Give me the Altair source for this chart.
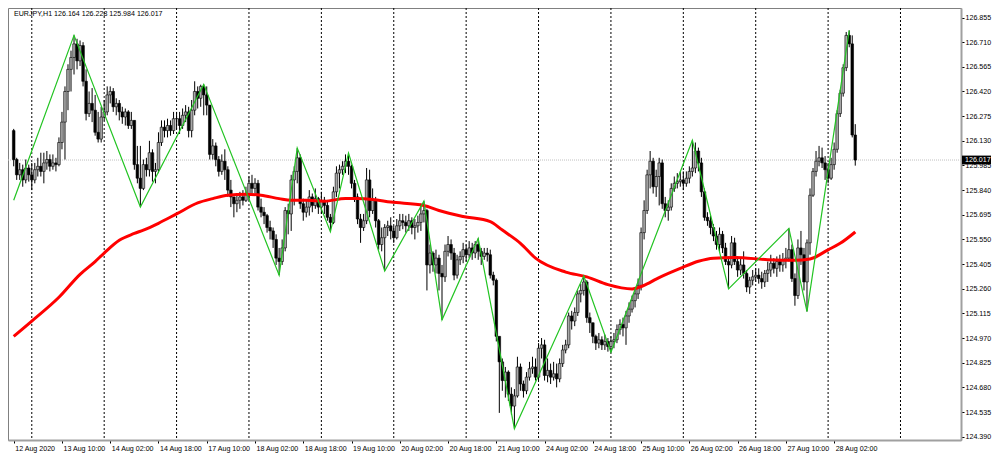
import json
import altair as alt
import pandas as pd

# ---------------- data ----------------
title_text = "EURJPY,H1  126.164 126.228 125.984 126.017"
first_open = 126.19

close = [
    126.02, 125.93, 125.96, 125.90, 125.97, 125.93, 125.90, 125.96, 125.98, 125.95,
    126.00, 126.02, 125.98, 126.00, 125.99, 126.12, 126.24, 126.42, 126.55, 126.62,
    126.70, 126.60, 126.69, 126.48, 126.29, 126.35, 126.31, 126.18, 126.14, 126.27,
    126.30, 126.40, 126.42, 126.33, 126.35, 126.30, 126.27, 126.30, 126.22, 126.25,
    125.99, 125.91, 125.85, 125.99, 125.96, 126.06, 125.95, 125.96, 126.12, 126.21,
    126.19, 126.22, 126.19, 126.26, 126.26, 126.22, 126.28, 126.30, 126.19, 126.31,
    126.42, 126.38, 126.45, 126.40, 126.34, 126.05, 126.10, 126.02, 125.95, 126.01,
    125.96, 125.84, 125.80, 125.76, 125.78, 125.80, 125.78, 125.82, 125.88, 125.85,
    125.88, 125.74, 125.71, 125.69, 125.62, 125.60, 125.55, 125.44, 125.42, 125.50,
    125.72, 125.70, 125.90, 125.95, 126.03, 125.76, 125.71, 125.74, 125.80, 125.75,
    125.79, 125.74, 125.78, 125.75, 125.68, 125.65, 125.83, 125.94, 125.96, 125.98,
    126.01, 125.98, 125.88, 125.80, 125.67, 125.62, 125.66, 125.90, 125.72, 125.78,
    125.66, 125.52, 125.56, 125.62, 125.63, 125.60, 125.56, 125.63, 125.66, 125.65,
    125.63, 125.66, 125.62, 125.63, 125.65, 125.70, 125.72, 125.40, 125.47, 125.40,
    125.44, 125.35, 125.33, 125.48, 125.52, 125.47, 125.34, 125.43, 125.45, 125.49,
    125.46, 125.50, 125.47, 125.52, 125.48, 125.45, 125.47, 125.46, 125.34, 125.31,
    124.98, 124.83, 124.72, 124.77, 124.64, 124.57, 124.63, 124.80, 124.70, 124.66,
    124.74, 124.79, 124.80, 124.74, 124.91, 124.93, 124.75, 124.78, 124.74, 124.76,
    124.73, 124.82, 124.90, 124.93, 125.10, 125.07, 125.12, 125.23, 125.25, 125.30,
    125.09, 125.06, 124.98, 124.94, 124.96, 124.93, 124.95, 124.92, 124.95, 124.96,
    125.02, 125.05, 125.03, 125.10, 125.14, 125.19, 125.23, 125.28, 125.59, 125.72,
    125.93, 126.01, 125.86, 125.92, 126.00, 125.76, 125.72, 125.74, 125.85, 125.88,
    125.89, 125.90, 125.88, 125.91, 125.95, 125.97, 126.07, 126.00, 125.83, 125.68,
    125.66, 125.62, 125.57, 125.52, 125.58, 125.50, 125.42, 125.40, 125.53, 125.42,
    125.37, 125.40, 125.35, 125.27, 125.31, 125.33, 125.34, 125.32, 125.30, 125.35,
    125.37, 125.41, 125.38, 125.42, 125.40, 125.43, 125.44, 125.49, 125.32, 125.22,
    125.50, 125.46, 125.30, 125.53, 125.81, 125.95, 126.01, 126.03, 126.00, 125.96,
    125.91, 125.99, 126.08, 126.29, 126.41, 126.56, 126.75, 126.70, 126.164, 126.017,
]

high = [
    126.20, 126.03, 126.00, 125.99, 126.02, 125.99, 126.00, 126.00, 126.03, 126.06,
    126.06, 126.07, 126.05, 126.05, 126.03, 126.15, 126.30, 126.45, 126.58, 126.66,
    126.75, 126.73, 126.72, 126.71, 126.55, 126.42, 126.44, 126.40, 126.30, 126.33,
    126.37, 126.45, 126.45, 126.44, 126.38, 126.37, 126.33, 126.32, 126.31, 126.30,
    126.24, 126.10, 126.10, 126.02, 126.03, 126.13, 126.08, 126.00, 126.18, 126.25,
    126.25, 126.26, 126.25, 126.30, 126.30, 126.30, 126.32, 126.34, 126.33, 126.37,
    126.48, 126.45, 126.46, 126.462, 126.45, 126.34, 126.14, 126.12, 126.04, 126.05,
    126.08, 125.98, 125.90, 125.80, 125.81, 125.83, 125.84, 125.86, 125.92, 125.93,
    125.91, 125.90, 125.79, 125.74, 125.70, 125.66, 125.62, 125.58, 125.50, 125.55,
    125.74, 125.76, 125.93, 125.98, 126.087, 126.05, 125.79, 125.78, 125.84, 125.82,
    125.85, 125.80, 125.83, 125.80, 125.78, 125.70, 125.86, 125.98, 125.99, 126.01,
    126.05, 126.058, 125.99, 125.90, 125.82, 125.70, 125.70, 125.97, 125.96, 125.85,
    125.80, 125.67, 125.62, 125.64, 125.66, 125.68, 125.63, 125.67, 125.70, 125.70,
    125.69, 125.70, 125.68, 125.67, 125.69, 125.76, 125.775, 125.73, 125.52, 125.48,
    125.49, 125.46, 125.40, 125.52, 125.57, 125.55, 125.50, 125.46, 125.48, 125.53,
    125.52, 125.54, 125.53, 125.54, 125.556, 125.50, 125.50, 125.50, 125.49, 125.36,
    125.32, 124.98, 124.85, 124.80, 124.78, 124.68, 124.67, 124.86, 124.82, 124.72,
    124.77, 124.83, 124.86, 124.85, 124.94, 124.97, 124.96, 124.85, 124.82, 124.83,
    124.82, 124.85, 124.93, 124.96, 125.12, 125.13, 125.15, 125.25, 125.29, 125.336,
    125.31, 125.12, 125.06, 124.99, 125.00, 124.98, 124.99, 124.97, 124.98, 125.00,
    125.05, 125.08, 125.09, 125.13, 125.18, 125.22, 125.26, 125.32, 125.62, 125.78,
    125.96, 126.07, 126.03, 125.96, 126.03, 126.02, 125.80, 125.78, 125.88, 125.92,
    125.94, 125.95, 125.95, 125.95, 125.98, 126.133, 126.12, 126.09, 126.03, 125.85,
    125.71, 125.69, 125.64, 125.60, 125.62, 125.60, 125.53, 125.45, 125.57, 125.56,
    125.45, 125.44, 125.48, 125.37, 125.33, 125.37, 125.38, 125.38, 125.36, 125.37,
    125.42, 125.46, 125.44, 125.45, 125.46, 125.47, 125.50, 125.615, 125.52, 125.35,
    125.55, 125.60, 125.50, 125.55, 125.85, 125.97, 126.07, 126.10, 126.09, 126.04,
    126.00, 126.03, 126.12, 126.31, 126.43, 126.58, 126.77, 126.779, 126.75, 126.228,
]

low = [
    125.98, 125.90, 125.90, 125.86, 125.88, 125.89, 125.84, 125.88, 125.92, 125.92,
    125.88, 125.96, 125.95, 125.96, 125.95, 125.98, 126.08, 126.02, 126.31, 126.42,
    126.52, 126.55, 126.57, 126.45, 126.25, 126.27, 126.24, 126.16, 126.12, 126.12,
    126.25, 126.28, 126.35, 126.30, 126.28, 126.25, 126.23, 126.22, 126.20, 126.20,
    125.96, 125.88, 125.741, 125.84, 125.92, 125.92, 125.89, 125.88, 125.94, 126.10,
    126.15, 126.15, 126.16, 126.17, 126.20, 126.17, 126.20, 126.24, 126.15, 126.15,
    126.28, 126.32, 126.33, 126.28, 126.28, 126.02, 126.02, 125.98, 125.92, 125.93,
    125.90, 125.80, 125.74, 125.68, 125.71, 125.73, 125.75, 125.77, 125.78, 125.82,
    125.82, 125.72, 125.68, 125.64, 125.59, 125.55, 125.50, 125.40, 125.34, 125.40,
    125.48, 125.58, 125.60, 125.75, 125.88, 125.73, 125.66, 125.68, 125.69, 125.71,
    125.73, 125.70, 125.70, 125.70, 125.66, 125.595, 125.64, 125.80, 125.85, 125.93,
    125.94, 125.93, 125.85, 125.77, 125.64, 125.53, 125.60, 125.64, 125.68, 125.70,
    125.62, 125.49, 125.48, 125.364, 125.57, 125.55, 125.53, 125.55, 125.60, 125.61,
    125.59, 125.60, 125.58, 125.55, 125.59, 125.60, 125.65, 125.25, 125.35, 125.36,
    125.35, 125.25, 125.077, 125.30, 125.45, 125.43, 125.31, 125.32, 125.40, 125.41,
    125.42, 125.44, 125.43, 125.44, 125.43, 125.40, 125.43, 125.42, 125.32, 125.28,
    124.95, 124.53, 124.66, 124.62, 124.60, 124.52, 124.437, 124.62, 124.66, 124.62,
    124.64, 124.72, 124.76, 124.72, 124.72, 124.85, 124.72, 124.71, 124.70, 124.72,
    124.68, 124.71, 124.80, 124.88, 124.91, 125.02, 125.04, 125.10, 125.18, 125.22,
    125.06, 125.00, 124.94, 124.90, 124.91, 124.90, 124.90, 124.89, 124.887, 124.91,
    124.94, 124.99, 124.98, 124.93, 125.06, 125.12, 125.15, 125.20, 125.25, 125.55,
    125.70, 125.85, 125.82, 125.80, 125.75, 125.73, 125.68, 125.66, 125.72, 125.83,
    125.85, 125.86, 125.84, 125.86, 125.88, 125.92, 125.94, 125.95, 125.80, 125.66,
    125.63, 125.58, 125.54, 125.49, 125.48, 125.47, 125.40, 125.259, 125.38, 125.40,
    125.33, 125.34, 125.32, 125.24, 125.23, 125.28, 125.30, 125.29, 125.26, 125.27,
    125.30, 125.33, 125.35, 125.33, 125.36, 125.36, 125.38, 125.42, 125.30, 125.16,
    125.20, 125.40, 125.25, 125.126, 125.46, 125.80, 125.92, 125.98, 125.97, 125.90,
    125.88, 125.90, 125.96, 126.06, 126.27, 126.39, 126.54, 126.68, 126.15, 125.984,
]

# moving average (red), read at sample bars
ma_bar = [0, 6, 15, 22, 27, 30, 35, 40, 43, 48, 54, 61, 66, 71, 77, 82, 88, 92, 97,
          103, 110, 114, 119, 125, 136, 141, 149, 158, 162, 168, 173, 183, 190, 197,
          205, 210, 213, 221, 227, 232, 239, 250, 259, 264, 270, 274, 279]
ma_val = [124.98, 125.07, 125.21, 125.345, 125.42, 125.47, 125.545, 125.585, 125.605,
          125.645, 125.70, 125.765, 125.79, 125.81, 125.815, 125.81, 125.79, 125.78,
          125.78, 125.775, 125.79, 125.79, 125.785, 125.77, 125.75, 125.72, 125.685,
          125.655, 125.605, 125.527, 125.44, 125.358, 125.33, 125.284, 125.259, 125.288,
          125.317, 125.38, 125.422, 125.44, 125.444, 125.431, 125.427, 125.435, 125.489,
          125.527, 125.594]

# zigzag pivots (green)
zz_bar = [0, 20, 42, 63, 88, 94, 105, 111, 123, 136, 142, 154, 166, 189, 198, 225,
          237, 257, 263, 277]
zz_val = [125.78, 126.75, 125.741, 126.462, 125.34, 126.087, 125.595, 126.058, 125.364,
          125.775, 125.077, 125.556, 124.437, 125.336, 124.887, 126.133, 125.259, 125.615,
          125.126, 126.779]

# day separators (bar index of 00:00) and time labels
grid_bar = [6, 30, 54, 78, 102, 126, 150, 174, 198, 222, 246, 270, 294]
time_label_bar = [0, 16, 32, 48, 64, 80, 96, 112, 128, 144, 160, 176, 192, 208, 224,
                  240, 256, 272]
time_labels = ["12 Aug 2020", "13 Aug 10:00", "14 Aug 02:00", "14 Aug 18:00",
               "17 Aug 10:00", "18 Aug 02:00", "18 Aug 18:00", "19 Aug 10:00",
               "20 Aug 02:00", "20 Aug 18:00", "21 Aug 10:00", "24 Aug 02:00",
               "24 Aug 18:00", "25 Aug 10:00", "26 Aug 02:00", "26 Aug 18:00",
               "27 Aug 10:00", "28 Aug 02:00"]
price_ticks = [126.855, 126.710, 126.565, 126.420, 126.275, 126.130, 125.985, 125.840,
               125.695, 125.550, 125.405, 125.260, 125.115, 124.970, 124.825, 124.680,
               124.535, 124.390]
last_price = 126.017

assert len(close) == len(high) == len(low) == 280

# ---------------- build tables ----------------
opens = [first_open] + close[:-1]
bars = pd.DataFrame({"i": list(range(len(close))), "open": opens, "close": close,
                     "high": high, "low": low})
bars["high"] = bars[["high", "open", "close"]].max(axis=1)
bars["low"] = bars[["low", "open", "close"]].min(axis=1)
bars["dir"] = ["up" if c >= o else "down" for o, c in zip(bars["open"], bars["close"])]

FONT = "Liberation Sans"
FS = 7.1
W, H = 953, 432
xs = alt.Scale(domain=[-0.23, 312.4], nice=False, zero=False)
ys = alt.Scale(domain=[124.3705, 126.911], nice=False, zero=False)

x_axis = alt.Axis(values=time_label_bar, title=None, grid=False, domain=True,
                  domainColor="#a0a0a0", domainWidth=2,
                  labelExpr=json.dumps(time_labels) + "[round(datum.value/16)]",
                  labelAlign="left", labelBaseline="top", labelPadding=1,
                  labelOffset=1, labelFont=FONT, labelFontSize=FS, labelColor="black",
                  tickColor="black", tickSize=3, labelOverlap=False, labelFlush=False,
                  labelBound=False)
y_axis = alt.Axis(orient="right", values=price_ticks, format=".3f", title=None,
                  grid=False, domain=True, domainColor="#a0a0a0", domainWidth=2,
                  labelFont=FONT, labelFontSize=FS, labelColor="black",
                  tickColor="black", tickSize=3, labelPadding=1, labelOverlap=False,
                  labelFlush=False, labelBound=False)

X = lambda f: alt.X(f, scale=xs, axis=x_axis)
Y = lambda f: alt.Y(f, scale=ys, axis=y_axis)

grid = alt.Chart(pd.DataFrame({"i": grid_bar})).mark_rule(
    color="black", strokeWidth=1, strokeDash=[2, 2], clip=True
).encode(x=X("i:Q"))

bid = alt.Chart(pd.DataFrame({"p": [last_price]})).mark_rule(
    color="#c0c0c0", strokeWidth=1, strokeDash=[1, 1]
).encode(y=Y("p:Q"))

base = alt.Chart(bars)
wicks = base.mark_rule(color="black", strokeWidth=1, clip=True).encode(
    x=X("i:Q"), y=Y("low:Q"), y2="high:Q",
)
bodies = base.mark_bar(size=2.6, stroke="black", strokeWidth=0.6, clip=True).encode(
    x=X("i:Q"), y=Y("open:Q"), y2="close:Q",
    color=alt.Color("dir:N", scale=alt.Scale(domain=["up", "down"],
                                             range=["#a8a8a8", "#000000"]), legend=None),
)

ma = alt.Chart(pd.DataFrame({"i": ma_bar, "v": ma_val})).mark_line(
    color="#ff0000", strokeWidth=3, clip=True, interpolate="monotone"
).encode(x=X("i:Q"), y=Y("v:Q"))

zz = alt.Chart(pd.DataFrame({"i": zz_bar, "v": zz_val})).mark_line(
    color="#22c422", strokeWidth=1.2, clip=True
).encode(x=X("i:Q"), y=Y("v:Q"))

price_df = pd.DataFrame({"p": [last_price], "t": [f"{last_price:.3f}"]})
pbox = alt.Chart(price_df).transform_calculate(
    lo="datum.p - 0.026", hi="datum.p + 0.026"
).mark_rect(color="black").encode(
    x=alt.value(W + 1), x2=alt.value(W + 30),
    y=Y("lo:Q"), y2="hi:Q",
)
ptext = alt.Chart(price_df).mark_text(
    align="left", baseline="middle", font=FONT, fontSize=FS, color="white"
).encode(x=alt.value(W + 4), y=Y("p:Q"), text="t:N")

title = alt.Chart(pd.DataFrame({"t": [title_text]})).mark_text(
    align="left", baseline="top", font=FONT, fontSize=FS, color="black"
).encode(x=alt.value(6), y=alt.value(2), text="t:N")

chart = alt.layer(grid, bid, wicks, bodies, ma, zz, pbox, ptext, title).properties(
    width=W, height=H,
    padding={"left": 0, "top": 0, "right": 31, "bottom": 13},
    autosize=alt.AutoSizeParams(type="none"),
    background="white",
).configure_view(stroke="#808080", strokeWidth=1)

chart.save("out.html", embed_options={"renderer": "svg", "actions": False})
